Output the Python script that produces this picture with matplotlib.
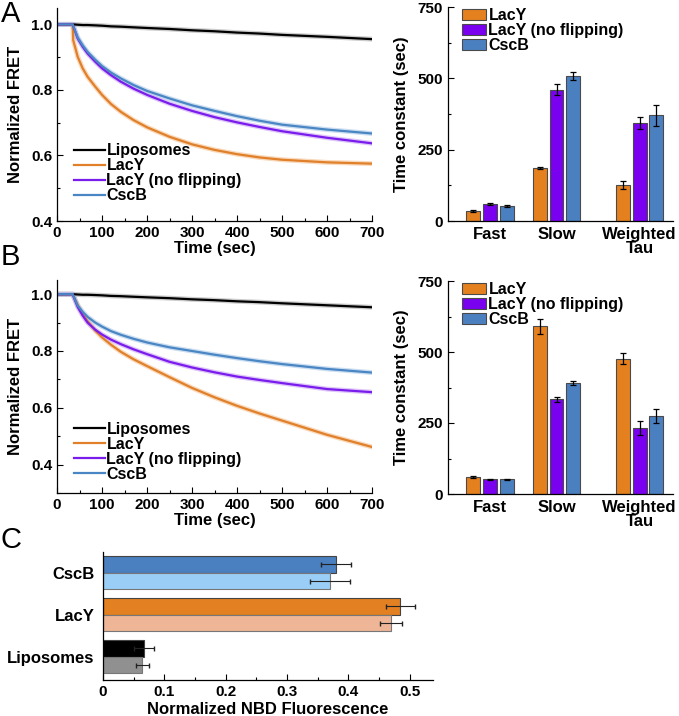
import numpy as np
import matplotlib
matplotlib.use("Agg")
import matplotlib.pyplot as plt
from matplotlib.ticker import MultipleLocator

plt.rcParams['font.family'] = ['Liberation Sans', 'DejaVu Sans']
plt.rcParams['font.weight'] = 'bold'
plt.rcParams['axes.labelweight'] = 'bold'

# ---- data ----
t = [0, 35, 36, 46, 57, 68, 85, 100, 120, 142, 170, 200, 250, 300, 350, 400, 450, 500, 600, 700]

# panel A curves
A_lip = [1.0, 1.0, 1.0, 0.999, 0.998, 0.998, 0.997, 0.996, 0.994, 0.993, 0.991, 0.989, 0.986, 0.982, 0.979, 0.975, 0.972, 0.968, 0.962, 0.955]
A_lacy = [1.0, 1.0, 0.952, 0.901, 0.866, 0.840, 0.810, 0.785, 0.757, 0.733, 0.708, 0.686, 0.657, 0.634, 0.617, 0.604, 0.594, 0.587, 0.579, 0.575]
A_noflip = [1.0, 1.0, 0.995, 0.957, 0.932, 0.911, 0.886, 0.866, 0.845, 0.825, 0.804, 0.785, 0.758, 0.736, 0.717, 0.701, 0.687, 0.674, 0.654, 0.637]
A_cscb = [1.0, 1.0, 0.995, 0.960, 0.936, 0.916, 0.892, 0.873, 0.853, 0.835, 0.815, 0.797, 0.774, 0.753, 0.736, 0.720, 0.706, 0.694, 0.679, 0.667]

# panel B curves
B_lip = [1.0, 1.0, 1.0, 0.999, 0.998, 0.998, 0.997, 0.996, 0.994, 0.993, 0.991, 0.989, 0.986, 0.982, 0.979, 0.975, 0.972, 0.968, 0.961, 0.954]
B_lacy = [1.0, 1.0, 0.995, 0.962, 0.930, 0.905, 0.872, 0.848, 0.822, 0.797, 0.771, 0.747, 0.708, 0.670, 0.637, 0.607, 0.580, 0.555, 0.505, 0.462]
B_noflip = [1.0, 1.0, 0.995, 0.955, 0.925, 0.900, 0.875, 0.858, 0.840, 0.824, 0.806, 0.789, 0.762, 0.742, 0.725, 0.710, 0.698, 0.687, 0.666, 0.655]
B_cscb = [1.0, 1.0, 0.996, 0.960, 0.938, 0.920, 0.900, 0.886, 0.870, 0.857, 0.843, 0.830, 0.813, 0.800, 0.787, 0.775, 0.764, 0.754, 0.737, 0.724]

curve_names = ["Liposomes", "LacY", "LacY (no flipping)", "CscB"]
curve_colors = ["black", "#E0802A", "#7A1CEB", "#4A86C3"]
curve_shadow = ["#aaaaaa", "#F5C08E", "#C9A0F5", "#A9C8E8"]

# bar panels
groups = ["Fast", "Slow", "Weighted\nTau"]
bar_names = ["LacY", "LacY (no flipping)", "CscB"]
bar_colors = ["#E5801F", "#7A00F0", "#4A80C0"]

A_bar = [[35, 185, 127], [60, 460, 343], [52, 508, 370]]
A_err = [[3, 4, 14], [4, 20, 22], [3, 14, 38]]
B_bar = [[60, 590, 477], [52, 333, 232], [52, 390, 275]]
B_err = [[4, 25, 18], [2, 10, 25], [2, 7, 24]]

# panel C
c_labels = ["Liposomes", "LacY", "CscB"]
c_dark = [0.067, 0.485, 0.380]
c_dark_err = [0.016, 0.023, 0.024]
c_light = [0.064, 0.469, 0.370]
c_light_err = [0.011, 0.018, 0.032]
c_dark_colors = ["#000000", "#E28022", "#4A7FC0"]
c_light_colors = ["#909090", "#EEB696", "#9ACEF7"]

W, H = 679, 716
fig = plt.figure(figsize=(W / 100, H / 100), dpi=100)


def box(l, t_, r, b):
    return [l / W, 1 - b / H, (r - l) / W, (b - t_) / H]


def style(ax):
    ax.spines['top'].set_visible(False)
    ax.spines['right'].set_visible(False)
    ax.tick_params(direction='in', which='both', labelsize=11, width=0.8)
    ax.tick_params(which='major', length=4)
    ax.tick_params(which='minor', length=2.5)
    for s in ax.spines.values():
        s.set_linewidth(0.9)
    for lab in ax.get_xticklabels() + ax.get_yticklabels():
        lab.set_fontweight('bold')


def line_panel(rect, series, ylo, leg_y):
    ax = fig.add_axes(rect)
    for ys, c, sc, name in zip(series, curve_colors, curve_shadow, curve_names):
        ax.plot(t, ys, color=sc, lw=3.5, alpha=0.6, zorder=1)
        ax.plot(t, ys, color=c, lw=1.6, label=name, zorder=2)
    ax.set_xlim(0, 700)
    ax.set_ylim(ylo, 1.05)
    ax.xaxis.set_major_locator(MultipleLocator(100))
    ax.xaxis.set_minor_locator(MultipleLocator(50))
    ax.yaxis.set_minor_locator(MultipleLocator(0.1))
    ax.set_yticks([0.4, 0.6, 0.8, 1.0])
    ax.set_xlabel("Time (sec)", fontsize=12, labelpad=1)
    ax.set_ylabel("Normalized FRET", fontsize=12, labelpad=6)
    style(ax)
    ax.legend(loc='lower left', bbox_to_anchor=(0.02, leg_y),
              frameon=False, fontsize=11.5, handlelength=1.9, handletextpad=0.1,
              labelspacing=0.0, borderpad=0.2)
    return ax


def bar_panel(rect, vals, errs):
    ax = fig.add_axes(rect)
    gx = np.array([0, 1, 2.25])
    w = 0.21
    for i in range(3):
        ax.bar(gx + (i - 1) * 0.25, vals[i], w, yerr=errs[i], color=bar_colors[i],
               edgecolor='#4a4a4a', linewidth=0.8, label=bar_names[i],
               error_kw=dict(ecolor='black', elinewidth=0.9, capsize=2.2, capthick=0.9))
    ax.set_xlim(-0.63, 2.75)
    ax.set_ylim(0, 750)
    ax.set_xticks(gx)
    ax.set_xticklabels(groups, fontsize=12, linespacing=0.95)
    ax.yaxis.set_major_locator(MultipleLocator(250))
    ax.yaxis.set_minor_locator(MultipleLocator(125))
    ax.set_ylabel("Time constant (sec)", fontsize=12, labelpad=6)
    style(ax)
    ax.tick_params(axis='x', length=0, pad=4)
    for lab in ax.get_xticklabels():
        lab.set_fontsize(12)
    ax.legend(loc='upper left', bbox_to_anchor=(0.02, 1.04), frameon=False, fontsize=11.5,
              handlelength=1.5, handleheight=0.75, handletextpad=0.15,
              labelspacing=0.0, borderpad=0.1)
    return ax


line_panel(box(57, 8, 372, 221), [A_lip, A_lacy, A_noflip, A_cscb], 0.4, 0.03)
bar_panel(box(448, 7, 673, 221), A_bar, A_err)
line_panel(box(57, 280, 372, 493), [B_lip, B_lacy, B_noflip, B_cscb], 0.3, 0.0)
bar_panel(box(448, 281, 673, 494), B_bar, B_err)

# panel C
axc = fig.add_axes(box(103, 552, 433, 680))
y = np.arange(3)
h = 0.4
axc.barh(y + 0.2, c_dark, h, xerr=c_dark_err, color=c_dark_colors, edgecolor='#444444',
         linewidth=0.8, error_kw=dict(ecolor='#222222', elinewidth=0.8, capsize=1.8))
axc.barh(y - 0.2, c_light, h, xerr=c_light_err, color=c_light_colors, edgecolor='#777777',
         linewidth=0.8, error_kw=dict(ecolor='#222222', elinewidth=0.8, capsize=1.8))
axc.set_ylim(-0.555, 2.49)
axc.set_xlim(0, 0.538)
axc.set_yticks(y)
axc.set_yticklabels(c_labels)
axc.xaxis.set_minor_locator(MultipleLocator(0.05))
axc.set_xticks([0, 0.1, 0.2, 0.3, 0.4, 0.5])
axc.set_xticklabels(["0", "0.1", "0.2", "0.3", "0.4", "0.5"])
axc.set_xlabel("Normalized NBD Fluorescence", fontsize=12, labelpad=2)
style(axc)
axc.tick_params(axis='y', length=0, pad=6)
for lab in axc.get_yticklabels():
    lab.set_fontsize(12)

# panel letters
for letter, yy in [("A", 14), ("B", 257), ("C", 540)]:
    fig.text(1 / W, 1 - yy / H, letter, fontsize=21, fontweight='normal', va='center', ha='left')

fig.savefig("out.png", dpi=100)
